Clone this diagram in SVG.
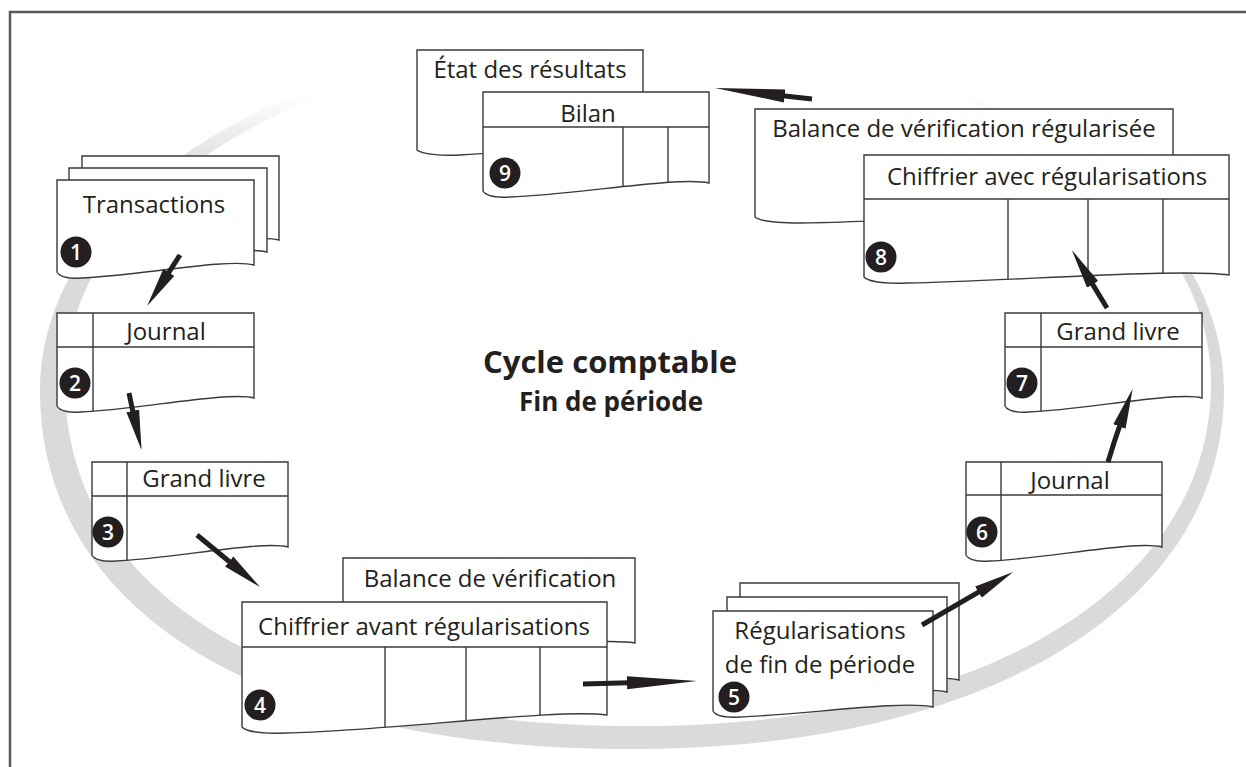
<svg xmlns="http://www.w3.org/2000/svg" width="1246" height="767" viewBox="0 0 1246 767">
<style>
.sheet{fill:#fff;stroke:#3a3a3a;stroke-width:1.4}
.ln{stroke:#3a3a3a;stroke-width:1.4;fill:none}
.t{font-family:"Open Sans","Liberation Sans",sans-serif;font-size:24px;fill:#231f20;text-anchor:middle}
.title{font-family:"Open Sans","Liberation Sans",sans-serif;font-weight:bold;fill:#231f20;text-anchor:middle}
.bd{fill:#231f20}
.num{font-family:"Open Sans","Liberation Sans",sans-serif;font-size:21px;font-weight:600;fill:#fff;text-anchor:middle}
.arr{stroke:#231f20;stroke-width:5;fill:none;marker-end:url(#ah)}
.arrl{stroke:#231f20;stroke-width:5;fill:none;marker-end:url(#ahl)}
.frame{stroke:#5a5a5a;stroke-width:2.5;fill:none}
</style>
<defs>
<marker id="ah" markerUnits="userSpaceOnUse" markerWidth="44" markerHeight="16" viewBox="0 -8 44 16" refX="2" refY="0" orient="auto"><path d="M0,-6.5 L40,0 L0,6.5 Z" fill="#231f20"/></marker>
<marker id="ahl" markerUnits="userSpaceOnUse" markerWidth="74" markerHeight="16" viewBox="0 -8 74 16" refX="2" refY="0" orient="auto"><path d="M0,-6.5 L70,0 L0,6.5 Z" fill="#231f20"/></marker>
<linearGradient id="fade" gradientUnits="userSpaceOnUse" x1="0" y1="95" x2="0" y2="175"><stop offset="0" stop-color="#000"/><stop offset="1" stop-color="#fff"/></linearGradient>
<mask id="ringmask" maskUnits="userSpaceOnUse" x="0" y="0" width="1246" height="767"><rect width="1246" height="767" fill="url(#fade)"/></mask>
<path id="p4f" d="M242,602 H607 V715 C559.6,708 388,731 285.8,733 C260.3,734 245.7,731 242,727 Z"/>
<path id="p8f" d="M864,155 H1229 V275 C1181.6,268 1010,281 907.8,283 C882.3,284 867.7,281 864,277 Z"/>
<path id="p9f" d="M483,92 H709 V183 C679.6,176 573.4,195 510.1,197 C494.3,198 485.3,195 483,191 Z"/>
<path id="p2" d="M57,313 H254 V398 C228.4,391 135.8,410 80.6,412 C66.9,413 59,410 57,406 Z"/>
<path id="p3" d="M92,462 H288 V547 C262.5,540 170.4,559 115.5,561 C101.8,562 94,559 92,555 Z"/>
<path id="p6" d="M966,462 H1162 V547 C1136.5,540 1044.4,559 989.5,561 C975.8,562 968,559 966,555 Z"/>
<path id="p7" d="M1005,313 H1202 V398 C1176.4,391 1083.8,410 1028.6,412 C1014.9,413 1007,410 1005,406 Z"/>
<clipPath id="c4"><use href="#p4f"/></clipPath>
<clipPath id="c8"><use href="#p8f"/></clipPath>
<clipPath id="c9"><use href="#p9f"/></clipPath>
<clipPath id="c2"><use href="#p2"/></clipPath>
<clipPath id="c3"><use href="#p3"/></clipPath>
<clipPath id="c6"><use href="#p6"/></clipPath>
<clipPath id="c7"><use href="#p7"/></clipPath>
</defs>
<rect width="1246" height="767" fill="#fff"/>
<path class="frame" d="M10,767 V12 H1246"/>
<path id="ring" fill="#d9dadc" fill-rule="evenodd" mask="url(#ringmask)" d="M40,391 C40,191 300.5,33 632,33 C963.5,33 1224,191 1224,391 C1224,605.8 987.2,749 632,749 C265,749 40,613 40,391 Z M65,383 C65,191 317,40 638,40 C959,40 1211,191 1211,383 C1211,588.8 981.8,726 638,726 C282.7,726 65,595.7 65,383 Z"/>

<g id="title">
<text class="title" x="610" y="373" font-size="31">Cycle comptable</text>
<text class="title" x="611" y="411" font-size="26">Fin de période</text>
</g>

<g id="n1">
<path class="sheet" d="M82,156 H279 V240 C253.4,233 160.8,251 105.6,253 C91.9,254 84,251 82,247 Z"/>
<path class="sheet" d="M69,168 H267 V252 C241.3,245 148.2,263 92.8,265 C78.9,266 71,263 69,259 Z"/>
<path class="sheet" d="M57,180 H254 V265 C228.4,258 135.8,276 80.6,278 C66.9,279 59,276 57,272 Z"/>
<text class="t" x="154" y="213">Transactions</text>
<circle class="bd" cx="76" cy="252" r="15.5"/><text class="num" x="76" y="259.5">1</text>
</g>

<g id="n2">
<use href="#p2" class="sheet"/>
<g clip-path="url(#c2)"><line class="ln" x1="57" y1="347" x2="254" y2="347"/><line class="ln" x1="93" y1="313" x2="93" y2="430"/></g>
<text class="t" x="166" y="340">Journal</text>
<circle class="bd" cx="75" cy="383" r="15.5"/><text class="num" x="75" y="390.5">2</text>
</g>

<g id="n3">
<use href="#p3" class="sheet"/>
<g clip-path="url(#c3)"><line class="ln" x1="92" y1="496" x2="288" y2="496"/><line class="ln" x1="127" y1="462" x2="127" y2="580"/></g>
<text class="t" x="204" y="487">Grand livre</text>
<circle class="bd" cx="108" cy="532" r="15.5"/><text class="num" x="108" y="539.5">3</text>
</g>

<g id="n4">
<path class="sheet" d="M343,558 H635 V643 C597,636 459.8,655 378,657 C357.6,658 345.9,655 343,651 Z"/>
<text class="t" x="490" y="587">Balance de vérification</text>
<use href="#p4f" class="sheet"/>
<g clip-path="url(#c4)"><line class="ln" x1="242" y1="647" x2="607" y2="647"/><line class="ln" x1="385" y1="647" x2="385" y2="760"/><line class="ln" x1="466" y1="647" x2="466" y2="760"/><line class="ln" x1="540" y1="647" x2="540" y2="760"/></g>
<text class="t" x="424" y="635">Chiffrier avant régularisations</text>
<circle class="bd" cx="260" cy="705" r="15.5"/><text class="num" x="260" y="712.5">4</text>
</g>

<g id="n5">
<path class="sheet" d="M740,583 H959 V680 C930.5,673 827.6,688 766.3,690 C751,691 742.2,688 740,684 Z"/>
<path class="sheet" d="M727,597 H947 V692 C918.4,685 815,700 753.4,702 C738,703 729.2,700 727,696 Z"/>
<path class="sheet" d="M713,611 H933 V707 C904.4,700 801,715 739.4,717 C724,718 715.2,715 713,711 Z"/>
<text class="t" x="820" y="638.5" font-size="24.5">Régularisations</text>
<text class="t" x="820" y="672.5" font-size="24.5">de fin de période</text>
<circle class="bd" cx="734" cy="697" r="15.5"/><text class="num" x="734" y="704.5">5</text>
</g>

<g id="n6">
<use href="#p6" class="sheet"/>
<g clip-path="url(#c6)"><line class="ln" x1="966" y1="495" x2="1162" y2="495"/><line class="ln" x1="1001" y1="462" x2="1001" y2="580"/></g>
<text class="t" x="1070" y="489">Journal</text>
<circle class="bd" cx="982" cy="532" r="15.5"/><text class="num" x="982" y="539.5">6</text>
</g>

<g id="n7">
<use href="#p7" class="sheet"/>
<g clip-path="url(#c7)"><line class="ln" x1="1005" y1="347" x2="1202" y2="347"/><line class="ln" x1="1041" y1="313" x2="1041" y2="430"/></g>
<text class="t" x="1118" y="340">Grand livre</text>
<circle class="bd" cx="1022" cy="383" r="15.5"/><text class="num" x="1022" y="390.5">7</text>
</g>

<g id="n8">
<path class="sheet" d="M755,109 H1173 V212 C1100,208 900,222 800,223 C775,223 760,221 755,217 Z"/>
<text class="t" x="964" y="137">Balance de vérification régularisée</text>
<use href="#p8f" class="sheet"/>
<g clip-path="url(#c8)"><line class="ln" x1="864" y1="199" x2="1229" y2="199"/><line class="ln" x1="1008" y1="199" x2="1008" y2="300"/><line class="ln" x1="1088" y1="199" x2="1088" y2="300"/><line class="ln" x1="1163" y1="199" x2="1163" y2="300"/></g>
<text class="t" x="1047" y="185">Chiffrier avec régularisations</text>
<circle class="bd" cx="881" cy="257" r="15.5"/><text class="num" x="881" y="264.5">8</text>
</g>

<g id="n9">
<path class="sheet" d="M417,50 H643 V140 C600,140 520,152 460,155 C440,156 422,154 417,150 Z"/>
<text class="t" x="530" y="78">État des résultats</text>
<use href="#p9f" class="sheet"/>
<g clip-path="url(#c9)"><line class="ln" x1="483" y1="127" x2="709" y2="127"/><line class="ln" x1="623" y1="127" x2="623" y2="220"/><line class="ln" x1="668" y1="127" x2="668" y2="220"/></g>
<text class="t" x="588" y="122">Bilan</text>
<circle class="bd" cx="505" cy="173" r="15.5"/><text class="num" x="505" y="180.5">9</text>
</g>

<g id="connectors">
<path class="arr" d="M180,255 L167.7,274.1"/>
<path class="arr" d="M129,393 Q131,403 133.2,412.8"/>
<path class="arr" d="M197,535 L230.7,562.8"/>
<path class="arrl" d="M583,684 L629,682.8"/>
<path class="arr" d="M922,625 L980.2,591.1"/>
<path class="arr" d="M1108,462 Q1114,442 1120.1,424.6"/>
<path class="arr" d="M1107,308 L1091.6,282.6"/>
<path class="arrl" d="M812,99 L782.6,95.7"/>
</g>
</svg>
